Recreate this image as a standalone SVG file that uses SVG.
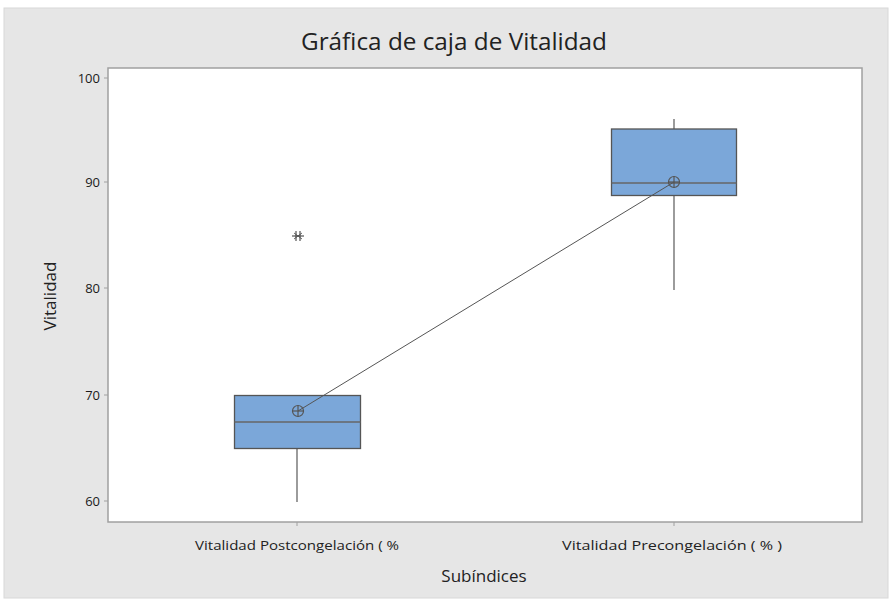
<svg xmlns="http://www.w3.org/2000/svg" width="891" height="601" viewBox="0 0 891 601">
<style>
.t{font-family:"Open Sans","Liberation Sans",sans-serif;fill:#222}
.tick{font-size:13px;text-anchor:end;fill:#1a1a1a}
.ax{stroke:#a0a0a0;stroke-width:1;fill:none}
.box{fill:#7ba7d9;stroke:#555;stroke-width:1.3}
.wh{stroke:#666;stroke-width:1.3}
.ln{stroke:#555;stroke-width:1}
</style>
<rect x="0" y="0" width="891" height="601" fill="#fff"/>
<rect x="4" y="8" width="884" height="590" fill="#e6e6e6" stroke="#d8d8d8"/>
<rect x="108" y="68" width="754" height="454" style="fill:#fff;stroke:#a0a0a0;stroke-width:1.5"/>
<text class="t" x="454" y="50" font-size="23" text-anchor="middle" textLength="306" lengthAdjust="spacingAndGlyphs">Gráfica de caja de Vitalidad</text>
<g id="yaxis">
<line class="ax" x1="104" y1="78" x2="108" y2="78"/>
<line class="ax" x1="104" y1="182" x2="108" y2="182"/>
<line class="ax" x1="104" y1="288" x2="108" y2="288"/>
<line class="ax" x1="104" y1="395" x2="108" y2="395"/>
<line class="ax" x1="104" y1="501" x2="108" y2="501"/>
<text class="t tick" x="100" y="83">100</text>
<text class="t tick" x="100" y="187">90</text>
<text class="t tick" x="100" y="293">80</text>
<text class="t tick" x="100" y="400">70</text>
<text class="t tick" x="100" y="506">60</text>
<text class="t" font-size="17" text-anchor="middle" transform="translate(56,296) rotate(-90)">Vitalidad</text>
</g>
<g id="xaxis">
<line class="ax" x1="297" y1="522" x2="297" y2="526"/>
<line class="ax" x1="674" y1="522" x2="674" y2="526"/>
<text class="t" x="297" y="550" font-size="13" text-anchor="middle" textLength="204" lengthAdjust="spacingAndGlyphs">Vitalidad  Postcongelación ( %</text>
<text class="t" x="672" y="550" font-size="13" text-anchor="middle" textLength="220" lengthAdjust="spacingAndGlyphs">Vitalidad  Precongelación ( % )</text>
<text class="t" x="484" y="582" font-size="17" text-anchor="middle">Subíndices</text>
</g>
<g id="box-post">
<line class="wh" x1="297" y1="449" x2="297" y2="502"/>
<rect class="box" x="234.5" y="395.5" width="126" height="53"/>
<line class="wh" x1="234.5" y1="422" x2="360.5" y2="422"/>
</g>
<g id="outlier" stroke="#444" stroke-width="1.1">
<line x1="292" y1="236" x2="304" y2="236"/>
<line x1="296" y1="231" x2="296" y2="241"/>
<line x1="300" y1="231" x2="300" y2="241"/>
<line x1="294" y1="233" x2="302" y2="239" stroke-width="0.8"/>
<line x1="302" y1="233" x2="294" y2="239" stroke-width="0.8"/>
</g>
<g id="box-pre">
<line class="wh" x1="674" y1="119" x2="674" y2="290"/>
<rect class="box" x="611.5" y="129" width="125" height="66.5"/>
<line class="wh" x1="611.5" y1="183" x2="736.5" y2="183"/>
</g>
<g id="connectors">
<line class="ln" x1="298" y1="411" x2="674" y2="182"/>
</g>
<g id="means" stroke="#555" stroke-width="1.2" fill="none">
<circle cx="298" cy="411" r="5.5"/>
<line x1="292.5" y1="411" x2="303.5" y2="411"/>
<line x1="298" y1="405.5" x2="298" y2="416.5"/>
<circle cx="674" cy="182" r="5.5"/>
<line x1="668.5" y1="182" x2="679.5" y2="182"/>
<line x1="674" y1="176.5" x2="674" y2="187.5"/>
</g>
</svg>
